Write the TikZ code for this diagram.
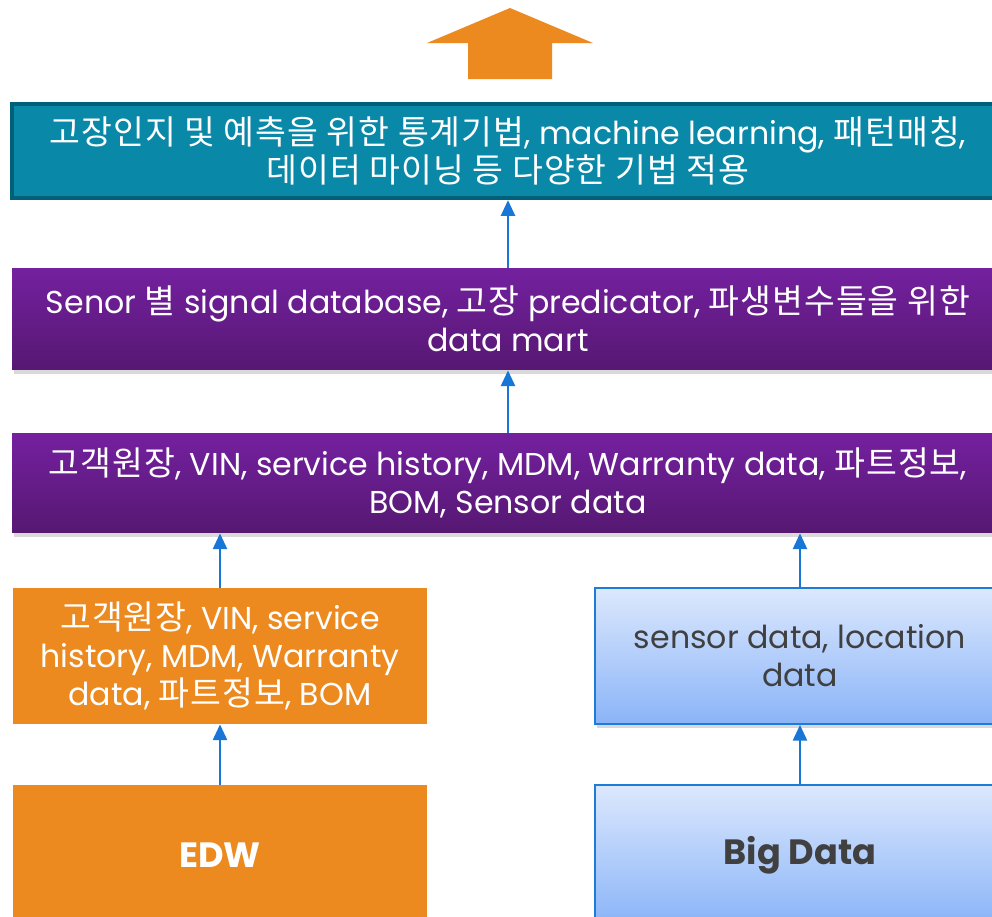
\documentclass[tikz,border=0pt]{standalone}
\usepackage{fontspec}
\setmainfont{Poppins}
\newfontfamily\krfont[Scale=1.06,LetterSpace=3]{Noto Sans CJK KR}
\usetikzlibrary{positioning}
\usetikzlibrary{arrows.meta,shadows}

% Hangul syllables are set in the CJK font
\XeTeXinterchartokenstate=1
\newXeTeXintercharclass\hangulclass
\makeatletter
\count@="AC00
\loop\ifnum\count@<"D7A4 \XeTeXcharclass\count@=\hangulclass \advance\count@ by 1 \repeat
\makeatother
\XeTeXinterchartoks 0 \hangulclass = {\krfont}
\XeTeXinterchartoks 4095 \hangulclass = {\krfont}
\XeTeXinterchartoks \hangulclass 0 = {\rmfamily}
\XeTeXinterchartoks \hangulclass 4095 = {\rmfamily}

\definecolor{tealfill}{HTML}{0A88A8}
\definecolor{tealline}{HTML}{00607A}
\definecolor{purpletop}{HTML}{74209F}
\definecolor{purplebot}{HTML}{561872}
\definecolor{orangefill}{HTML}{EC8A20}
\definecolor{bluetop}{HTML}{DCE8FD}
\definecolor{bluebot}{HTML}{8AB4F8}
\definecolor{blueline}{HTML}{1E7BD8}
\definecolor{flowblue}{HTML}{1877D6}
\definecolor{darktext}{HTML}{404040}

\begin{document}
\begin{tikzpicture}[x=0.02cm,y=-0.02cm,
		layer/.style={rectangle, inner sep=0pt, align=center, text=white, font=\fontsize{18}{21.6}\selectfont},
		analysis/.style={layer, fill=tealfill, draw=tealline, line width=2.4pt, minimum width=19.84cm, minimum height=1.88cm},
		mart/.style={layer, top color=purpletop, bottom color=purplebot, minimum width=19.84cm,
			drop shadow={opacity=.3, shadow xshift=1pt, shadow yshift=-2pt}},
		source/.style={layer, fill=orangefill, minimum width=8.28cm, minimum height=2.72cm},
		sensor/.style={layer, text=darktext, top color=bluetop, bottom color=bluebot, draw=blueline, line width=1pt,
			minimum width=8.2cm, minimum height=2.72cm, drop shadow={opacity=.3, shadow xshift=1pt, shadow yshift=-2pt}},
		flow/.style={draw=flowblue, line width=1.4pt, -{Triangle[width=8pt,length=9pt]}},
	]
	\clip (0,0) rectangle (992,917);
	% Draw diagram elements
	\node (edw) [source, minimum height=2.8cm, font=\fontsize{20}{24}\bfseries] at (220,855) {EDW};
	\node (bigdata) [sensor, minimum height=2.8cm, font=\fontsize{20}{24}\bfseries] at (800,855) {Big Data};
	\node (edwdata) [source] at (220,656) {고객원장, VIN, service\\history, MDM, Warranty\\data, 파트정보, BOM};
	\node (sensordata) [sensor] at (800,656) {sensor data, location\\data};
	\node (integrated) [mart, minimum height=2.0cm] at (508,483) {고객원장, VIN, service history, MDM, Warranty data, 파트정보,\\BOM, Sensor data};
	\node (datamart) [mart, minimum height=2.04cm] at (508,319) {Senor 별 signal database, 고장 predicator, 파생변수들을 위한\\data mart};
	\node (methods) [analysis] at (508,151) {고장인지 및 예측을 위한 통계기법, machine learning, 패턴매칭,\\데이터 마이닝 등 다양한 기법 적용};
	% Big arrow on top
	\fill[orangefill] (468,79) -- (468,43) -- (427,43) -- (510,8) -- (593,43) -- (552,43) -- (552,79) -- cycle;
	% Draw arrows between elements
	\draw[flow] (edw) -- (edwdata);
	\draw[flow] (bigdata) -- (sensordata);
	\draw[flow] (edwdata) -- (edwdata.north |- integrated.south);
	\draw[flow] (sensordata) -- (sensordata.north |- integrated.south);
	\draw[flow] (integrated) -- (datamart);
	\draw[flow] (datamart) -- (methods);
\end{tikzpicture}
\end{document}
